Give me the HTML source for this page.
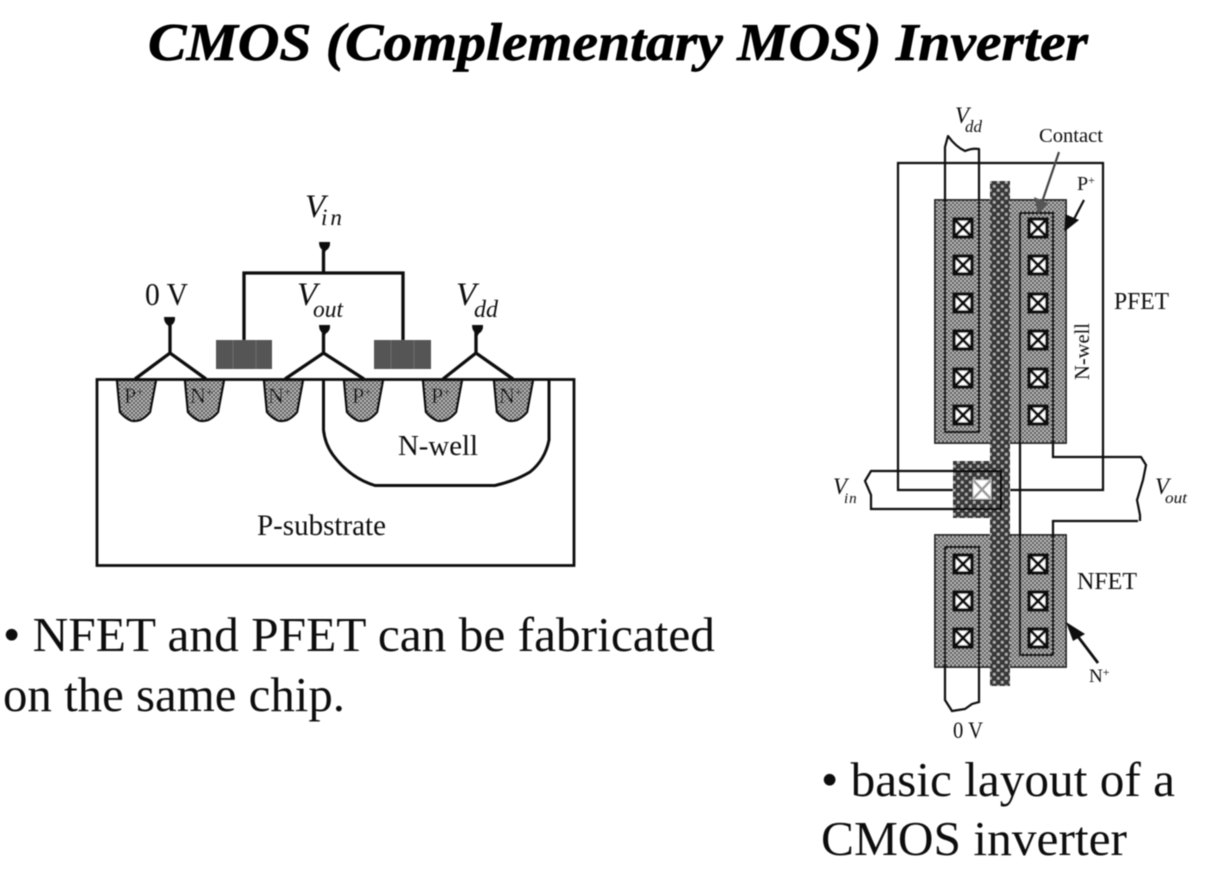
<!DOCTYPE html>
<html>
<head>
<meta charset="utf-8">
<style>
html,body{margin:0;padding:0;background:#fff;}
svg{display:block;}
text{font-family:"Liberation Serif",serif;fill:#111;}
.i{font-style:italic;}
</style>
</head>
<body>
<svg width="1210" height="880" viewBox="0 0 1210 880" xmlns="http://www.w3.org/2000/svg">
<defs>
<filter id="soft" x="0" y="0" width="100%" height="100%"><feGaussianBlur stdDeviation="0.5"/></filter>
<pattern id="diff" width="4" height="4" patternUnits="userSpaceOnUse">
<rect width="4" height="4" fill="#505050"/>
<rect x="0" y="0" width="2" height="2" fill="#b8b8b8"/>
<rect x="2" y="2" width="2" height="2" fill="#b8b8b8"/>
</pattern>
<pattern id="poly" width="8" height="8" patternUnits="userSpaceOnUse">
<rect width="8" height="8" fill="#383838"/>
<rect x="1" y="1" width="2.6" height="2.6" fill="#b0b0b0"/>
<rect x="5" y="5" width="2.6" height="2.6" fill="#b0b0b0"/>
</pattern>
<g id="ct">
<rect x="-9" y="-9" width="18" height="18" fill="#fff" stroke="#111" stroke-width="3.4"/>
<path d="M-9.5-9.5L9.5 9.5M9.5-9.5L-9.5 9.5" stroke="#111" stroke-width="3"/>
</g>
<path id="term" d="M-5.5-5H5.5Q6 1 1.5 3.5L0 6L-1.5 3.5Q-5.5 1-5.5-5Z" fill="#111"/>
<path id="well" d="M0 0L3 32Q8 38 14 40.5Q18 41.5 23 40Q29 37 33 32L39 0Z" fill="url(#diff)" stroke="#111" stroke-width="2.4"/>
</defs>

<g filter="url(#soft)">
<text x="148" y="60" font-size="53" font-weight="bold" class="i" textLength="940" lengthAdjust="spacingAndGlyphs" style="fill:#000;stroke:#000;stroke-width:.7">CMOS (Complementary MOS) Inverter</text>

<!-- left cross-section -->
<g transform="translate(117,380)"><use href="#well"/></g>
<g transform="translate(185,380)"><use href="#well"/></g>
<g transform="translate(264,380)"><use href="#well"/></g>
<g transform="translate(344,380)"><use href="#well"/></g>
<g transform="translate(423,380)"><use href="#well"/></g>
<g transform="translate(494,380)"><use href="#well"/></g>
<g font-size="22">
<text x="124" y="403">P<tspan font-size="13" dy="-7">+</tspan></text>
<text x="190" y="403">N<tspan font-size="13" dy="-7">+</tspan></text>
<text x="268" y="403">N<tspan font-size="13" dy="-7">+</tspan></text>
<text x="352" y="403">P<tspan font-size="13" dy="-7">+</tspan></text>
<text x="431" y="403">P<tspan font-size="13" dy="-7">+</tspan></text>
<text x="499" y="403">N<tspan font-size="13" dy="-7">+</tspan></text>
</g>
<rect x="97" y="379.5" width="477" height="186" fill="none" stroke="#111" stroke-width="2.8"/>
<path d="M323.5 380V430Q325 444 333 455Q350 478 375 485.5H495Q515 481 530 472Q545 460 549 440V380" fill="none" stroke="#111" stroke-width="3"/>
<g fill="#555">
<rect x="216" y="340" width="56" height="29"/>
<rect x="374" y="340" width="57" height="29"/>
</g>
<path d="M233 340V369M256 340V369M391 340V369M414 340V369" stroke="#6b6b6b" stroke-width="1"/>
<g fill="none" stroke="#111" stroke-width="3.3">
<path d="M323.5 250V273M244 340V273H403V340"/>
<path d="M170 322V353M135 379L170 353L206 379"/>
<path d="M323.5 330V353M285 379L323.5 353L364 379"/>
<path d="M476 330V353M443 379L476 353L513 379"/>
</g>
<use href="#term" x="324.5" y="247"/>
<use href="#term" x="169.5" y="322"/>
<use href="#term" x="324.5" y="330"/>
<use href="#term" x="477.5" y="330"/>
<text x="305" y="217" font-size="33" class="i">V</text>
<text x="321" y="225" font-size="23" class="i" letter-spacing="3">in</text>
<text x="145" y="305" font-size="32" textLength="43" lengthAdjust="spacingAndGlyphs">0 V</text>
<text x="297" y="305" font-size="33" class="i">V</text>
<text x="313" y="317" font-size="24" class="i" textLength="30" lengthAdjust="spacingAndGlyphs">out</text>
<text x="456" y="305" font-size="33" class="i">V</text>
<text x="474" y="317" font-size="24" class="i">dd</text>
<text x="398" y="455" font-size="28" textLength="80" lengthAdjust="spacingAndGlyphs">N-well</text>
<text x="257" y="535" font-size="30" textLength="129" lengthAdjust="spacingAndGlyphs">P-substrate</text>

<text x="3" y="651" font-size="49" textLength="712" lengthAdjust="spacingAndGlyphs">• NFET and PFET can be fabricated</text>
<text x="3" y="711" font-size="49" textLength="342" lengthAdjust="spacingAndGlyphs">on the same chip.</text>

<!-- right layout -->
<rect x="935" y="200" width="131" height="243" fill="url(#diff)" stroke="#222" stroke-width="1.8"/>
<rect x="935" y="535" width="131" height="132" fill="url(#diff)" stroke="#222" stroke-width="1.8"/>
<path d="M953 490H898V163H1103V490H1010" fill="none" stroke="#111" stroke-width="2.2"/>
<rect x="990" y="181" width="20" height="505" fill="url(#poly)"/>
<rect x="953" y="461" width="38" height="57" fill="url(#poly)"/>
<g fill="none" stroke="#111" stroke-width="2.2">
<path d="M945 147V432H979V149Q972 148 965 151Q956 147 948 136Z" stroke-linejoin="round"/>
<path d="M1020 213H1053V457H1141L1146 465L1143 480L1137 500L1140 515V521M1138 521H1053V655H1020V213"/>
<path d="M945 700V547H979V702L972 704L965 709L952 711Z"/>
<path d="M871 471H1001V509H871V495L865 481Z"/>
</g>
<rect x="973" y="480" width="18" height="19" fill="#fff"/>
<path d="M973 480L991 499M991 480L973 499" stroke="#999" stroke-width="2.5"/>
<rect x="973" y="480" width="18" height="19" fill="none" stroke="#bbb" stroke-width="1"/>
<g>
<use href="#ct" x="963" y="228"/><use href="#ct" x="963" y="265"/><use href="#ct" x="963" y="303"/>
<use href="#ct" x="963" y="340"/><use href="#ct" x="963" y="378"/><use href="#ct" x="963" y="415"/>
<use href="#ct" x="1038" y="228"/><use href="#ct" x="1038" y="265"/><use href="#ct" x="1038" y="303"/>
<use href="#ct" x="1038" y="340"/><use href="#ct" x="1038" y="378"/><use href="#ct" x="1038" y="415"/>
<use href="#ct" x="963" y="564"/><use href="#ct" x="963" y="601"/><use href="#ct" x="963" y="638"/>
<use href="#ct" x="1038" y="564"/><use href="#ct" x="1038" y="601"/><use href="#ct" x="1038" y="638"/>
</g>
<path d="M1059 152L1041 205" stroke="#444" stroke-width="2.2" fill="none"/>
<path d="M1034 197L1048 203L1038 214Z" fill="#555"/>
<path d="M1084 200L1073 221" stroke="#111" stroke-width="2.2" fill="none"/>
<path d="M1065 214L1079 220L1064 232Z" fill="#111"/>
<path d="M1098 663L1076 634" stroke="#111" stroke-width="2.8" fill="none"/>
<path d="M1066 622L1085 634L1073 641Z" fill="#111"/>

<text x="955" y="123" font-size="23" class="i">V</text>
<text x="965" y="132" font-size="17" class="i">dd</text>
<text x="1039" y="142" font-size="20" textLength="64" lengthAdjust="spacingAndGlyphs">Contact</text>
<text x="1077" y="190" font-size="20">P<tspan font-size="12" dy="-6">+</tspan></text>
<text x="1114" y="309" font-size="24" textLength="55" lengthAdjust="spacingAndGlyphs">PFET</text>
<text transform="translate(1089,380) rotate(-90)" font-size="21" textLength="57" lengthAdjust="spacingAndGlyphs">N-well</text>
<text x="1077" y="589" font-size="24" textLength="60" lengthAdjust="spacingAndGlyphs">NFET</text>
<text x="833" y="494" font-size="23" class="i">V</text>
<text x="844" y="503" font-size="15" class="i" letter-spacing="1">in</text>
<text x="1155" y="494" font-size="23" class="i">V</text>
<text x="1165" y="503" font-size="16" class="i" textLength="22" lengthAdjust="spacingAndGlyphs">out</text>
<text x="1089" y="682" font-size="19">N<tspan font-size="12" dy="-6">+</tspan></text>
<text x="953" y="738" font-size="23" textLength="30" lengthAdjust="spacingAndGlyphs">0 V</text>

<text x="821" y="796" font-size="49" textLength="354" lengthAdjust="spacingAndGlyphs">• basic layout of a</text>
<text x="821" y="855" font-size="49" textLength="306" lengthAdjust="spacingAndGlyphs">CMOS inverter</text>
</g>
</svg>
</body>
</html>
